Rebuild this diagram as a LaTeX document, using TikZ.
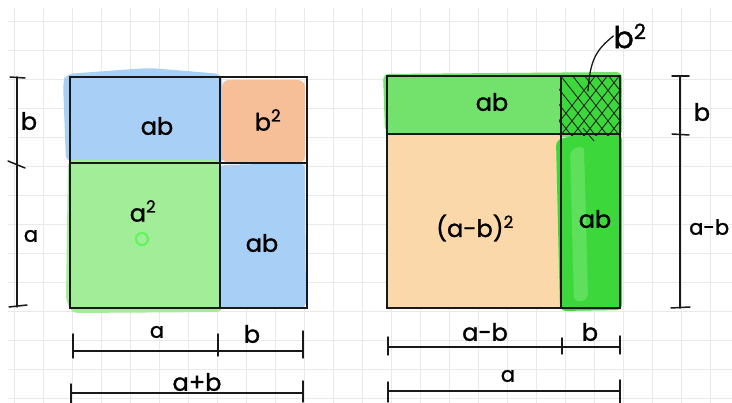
\documentclass[tikz,border=0pt]{standalone}
\usepackage{fontspec}
\setmainfont{Poppins}[FakeBold=1.2]
\definecolor{gridc}{HTML}{E9E9E9}
\definecolor{bluef}{HTML}{A8CFF6}
\definecolor{orangef}{HTML}{F6BF98}
\definecolor{greenlt}{HTML}{A2EE98}
\definecolor{peachf}{HTML}{FAD8AA}
\definecolor{greenmd}{HTML}{72E26C}
\definecolor{greenbr}{HTML}{3CD83B}
\definecolor{greensm}{HTML}{5FE05C}
\begin{document}
\begin{tikzpicture}[x=1pt,y=-1pt,
  gridline/.style={draw=gridc,line width=0.8pt},
  sq/.style={draw=black!90,line width=1.8pt,line cap=round},
  dimline/.style={draw=black!90,line width=1.5pt,line cap=round},
  lbl/.style={font=\fontsize{24}{28}\selectfont,inner sep=0pt},
  slbl/.style={font=\fontsize{21}{24}\selectfont,inner sep=0pt}]
\useasboundingbox (0,0) rectangle (732,403);
\fill[white] (0,0) rectangle (732,403);
% grid
\foreach \x in {14,43,...,730} \draw[gridline] (\x,8) -- (\x,403);
\foreach \y in {21,50,...,400} \draw[gridline] (8,\y) -- (732,\y);

% ---------- left square fills
\fill[bluef,rounded corners=7] (63,82) -- (66,74) -- (120,70) -- (150,68) -- (222,74) -- (224,163) -- (66,162) -- cycle;
\fill[orangef,rounded corners=7] (222,80) -- (305,80) -- (305,163) -- (222,163) -- cycle;
\fill[greenlt,rounded corners=5] (68,160) -- (220,160) -- (222,312) -- (72,313) -- (66,300) -- cycle;
\fill[bluef,rounded corners=6] (219,165) -- (305,163) -- (306,308) -- (220,309) -- cycle;

% ---------- right square fills
\fill[greenmd,rounded corners=6] (383,74) -- (622,72) -- (622,136) -- (562,137) -- (400,138) -- (385,132) -- cycle;
\fill[peachf] (386,134) rectangle (561,308);
\fill[greenbr,rounded corners=6] (556,140) -- (580,134) -- (622,134) -- (622,310) -- (560,311) -- cycle;
\fill[greensm,rounded corners=6] (570,150) -- (584,145) -- (588,300) -- (574,302) -- cycle;
\fill[greenbr] (561,76) rectangle (620,134);

% crosshatch
\begin{scope}
\clip (559,76) rectangle (621,136);
\foreach \i in {0,12,...,84}
  \draw[black!85,line width=0.9pt] (545+\i,140) -- (600+\i,70);
\foreach \i in {0,12,...,84}
  \draw[black!85,line width=0.9pt] (520+\i,70) -- (575+\i,140);
\end{scope}
\draw[black!85,line width=0.9pt] (583,128) -- (594,141);

% ---------- outlines left
\coordinate (Lnw) at (70,77);
\coordinate (Lne) at (307,77);
\coordinate (Lse) at (307,308);
\coordinate (Lsw) at (70,308);
\coordinate (Lmt) at (220,77);
\coordinate (Lmb) at (220,308);
\coordinate (Lml) at (70,163);
\coordinate (Lmr) at (307,163);
\draw[sq] (Lnw) -- (Lne) -- (Lse) -- (Lsw) -- cycle;
\draw[sq] (Lmt) -- (Lmb);
\draw[sq] (Lml) -- (Lmr);

% ---------- outlines right
\coordinate (Rnw) at (387,76);
\coordinate (Rne) at (620,76);
\coordinate (Rse) at (620,308);
\coordinate (Rsw) at (387,308);
\coordinate (Rmt) at (561,76);
\coordinate (Rmb) at (561,308);
\coordinate (Rml) at (387,134);
\coordinate (Rmr) at (620,134);
\draw[sq] (Rnw) -- (Rne) -- (Rse) -- (Rsw) -- cycle;
\draw[sq] (Rmt) -- (Rmb);
\draw[sq] (Rml) -- (Rmr);

% ---------- left labels
\node[lbl] (ab1) at (157,126) {ab};
\node[lbl] (bsq1) at (268,120) {b\textsuperscript{2}};
\node[lbl] (asq) at (143,211) {a\textsuperscript{2}};
\node[circle,draw=greenlt!60!green,line width=2.2pt,minimum size=12pt,inner sep=0pt] (dot) at (142,239) {};
\node[lbl] (ab2) at (262,243) {ab};

% left vertical dimension
\coordinate (LVt) at (17,77);
\coordinate (LVm) at (17,164);
\coordinate (LVb) at (17,307);
\draw[dimline] (LVt) -- (LVb);
\draw[dimline] (10,77) -- (25,78);
\draw[dimline] (8,161) -- (25,168);
\draw[dimline] (9,307) -- (27,305);
\node[lbl] (lb) at (29,121) {b};
\node[slbl] (la) at (31,236) {a};

% left bottom dimensions
\coordinate (B1l) at (73,351);
\coordinate (B1m) at (218,351);
\coordinate (B1r) at (303,351);
\draw[dimline] (B1l) -- (B1r);
\draw[dimline] (73,334) -- (73,358);
\draw[dimline] (218,334) -- (218,356);
\draw[dimline] (303,331) -- (303,358);
\node[slbl] (ba) at (157,332) {a};
\node[lbl] (bb) at (252,334) {b};
\coordinate (B2l) at (71,393);
\coordinate (B2r) at (303,393);
\draw[dimline] (B2l) -- (B2r);
\draw[dimline] (71,384) -- (71,403);
\draw[dimline] (303,381) -- (303,402);
\node[lbl] (bab) at (197,382) {a+b};

% ---------- right labels
\node[lbl] (ab3) at (492,102) {ab};
\node[lbl] (amb) at (475,228) {(a-b)\textsuperscript{2}};
\node[lbl] (ab4) at (595,219) {ab};
\node[font=\fontsize{30}{34}\selectfont,inner sep=0pt] (bsq2) at (630,36) {b\textsuperscript{2}};
\coordinate (lead) at (588,91);
\draw[black!90,line width=1.3pt,line cap=round] (lead) .. controls (590,60) and (596,50) .. (bsq2.west);

% right vertical dimension
\coordinate (RVt) at (680,76);
\coordinate (RVm) at (680,134);
\coordinate (RVb) at (680,308);
\draw[dimline] (RVt) -- (RVb);
\draw[dimline] (672,76) -- (689,76);
\draw[dimline] (672,134) -- (689,135);
\draw[dimline] (671,308) -- (690,307);
\node[lbl] (rb) at (702,112) {b};
\node[font=\fontsize{21}{24}\selectfont,inner sep=0pt,anchor=west] (ramb) at (689,227) {a-b};

% right bottom dimensions
\coordinate (C1l) at (388,347);
\coordinate (C1m) at (562,347);
\coordinate (C1r) at (620,347);
\draw[dimline] (C1l) -- (C1r);
\draw[dimline] (388,337) -- (388,355);
\draw[dimline] (562,338) -- (562,354);
\draw[dimline] (620,336) -- (620,354);
\node[lbl] (cab) at (485,332) {a-b};
\node[lbl] (cb) at (590,332) {b};
\coordinate (C2l) at (388,391);
\coordinate (C2r) at (620,391);
\draw[dimline] (C2l) -- (C2r);
\draw[dimline] (388,382) -- (388,402);
\draw[dimline] (620,380) -- (620,403);
\node[slbl] (ca) at (508,376) {a};
\end{tikzpicture}
\end{document}
